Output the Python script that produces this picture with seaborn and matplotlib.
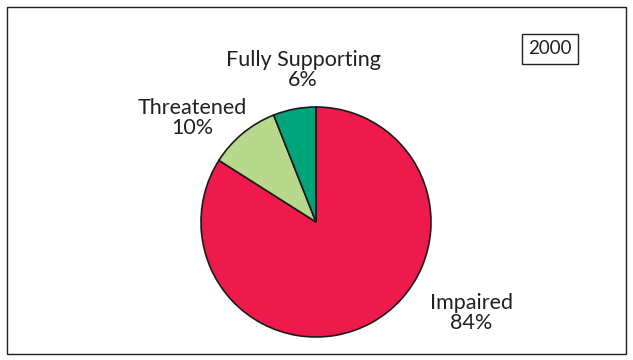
import matplotlib
matplotlib.use("Agg")
import matplotlib.pyplot as plt
import seaborn as sns
from matplotlib.patches import Rectangle

# Water quality status, 2000
categories = ["Impaired", "Threatened", "Fully Supporting"]
shares = [84, 10, 6]
colors = ["#EE1A4B", "#B6D98C", "#00A47B"]
year_label = "2000"

sns.set_theme(style="white")
plt.rcParams["font.family"] = ["Lato", "DejaVu Sans"]

fig = plt.figure(figsize=(6.33, 3.6), dpi=100)
ax = fig.add_axes([0, 0, 1, 1])

ax.pie(shares, colors=colors, startangle=90, counterclock=False,
       center=(316, 138), radius=115, frame=True,
       wedgeprops=dict(edgecolor="#1a1a1a", linewidth=1.2))
ax.set_xlim(0, 633)
ax.set_ylim(0, 360)
ax.set_aspect("equal")
ax.axis("off")

# slice labels
label_pos = {"Impaired": (471, 47), "Threatened": (192, 242), "Fully Supporting": (303, 290)}
for name, val in zip(categories, shares):
    x, y = label_pos[name]
    ax.text(x, y, f"{name}\n{val}%", ha="center", va="center",
            fontsize=15.5, color="#231f20", linespacing=0.95)

# year box
ax.text(550, 311, year_label, ha="center", va="center", fontsize=13.5, color="#231f20",
        bbox=dict(boxstyle="square,pad=0.35", facecolor="white", edgecolor="#231f20", linewidth=1))

# outer frame
fig.patches.append(Rectangle((7, 6), 619, 347, transform=None, fill=False,
                             edgecolor="#231f20", linewidth=1))

fig.savefig("out.png", dpi=100)
